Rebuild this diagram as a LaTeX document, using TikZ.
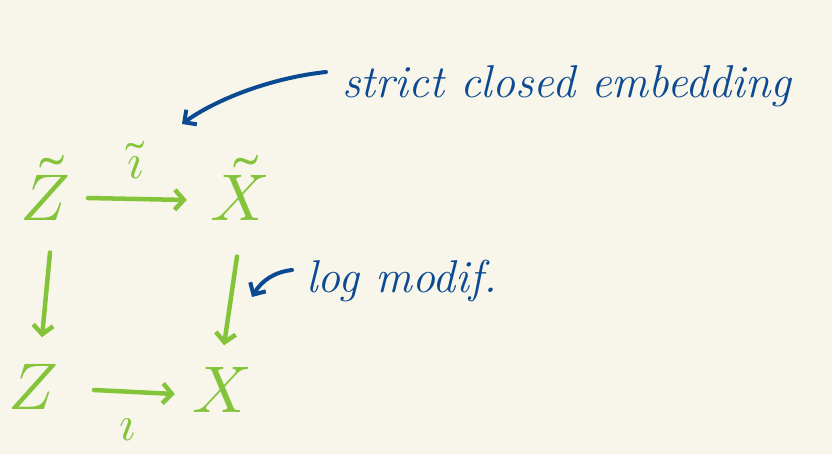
\documentclass[tikz,border=0pt]{standalone}
\usepackage{unicode-math}
\setmathfont{Latin Modern Math}
\usetikzlibrary{arrows.meta}
\definecolor{bgc}{HTML}{F8F5EA}
\definecolor{grn}{HTML}{84C43A}
\definecolor{blu}{HTML}{0B4A92}
\tikzset{
  obj/.style={text=grn, font=\fontsize{66}{66}\selectfont, inner sep=0pt},
  lab/.style={text=grn, font=\fontsize{50}{50}\selectfont, inner sep=0pt},
  garrow/.style={draw=grn, line width=4.5pt, line cap=round, -{Straight Barb[length=9pt,width=20pt,line width=4.5pt]}},
  barrow/.style={draw=blu, line width=4pt, line cap=round, -{Straight Barb[length=9pt,width=18pt,line width=4pt]}},
  note/.style={text=blu, font=\fontsize{46}{46}\selectfont\itshape, inner sep=0pt, anchor=base west}
}
\begin{document}
\begin{tikzpicture}[x=1pt,y=-1pt]
\fill[bgc] (0,0) rectangle (832,454);
\useasboundingbox (0,0) rectangle (832,454);
\node[obj] (Zt) at (45,188) {$\tilde{Z}$};
\node[obj] (Xt) at (240,188) {$\tilde{X}$};
\node[obj] (Z) at (33,387) {$Z$};
\node[obj] (X) at (222,390) {$X$};
\node[lab] (it) at (135,160) {$\tilde{\imath}$};
\node[lab] (i) at (128,430) {$\imath$};
\node[note] (t1) at (342,98) {strict closed embedding};
\node[note] (t2) at (306,292) {log modif.};
\draw[garrow] ([shift={(18,10)}]Zt.east) -- ([shift={(-24,12)}]Xt.west);
\draw[garrow] ([shift={(5,32)}]Zt.south) -- ([shift={(9,-27)}]Z.north);
\draw[garrow] ([shift={(-3,36)}]Xt.south) -- ([shift={(2,-22)}]X.north);
\draw[garrow] ([shift={(36,3)}]Z.east) -- ([shift={(-18,4)}]X.west);
\coordinate (c1) at (182,124);
\coordinate (c2) at (252,297);
\draw[barrow] ([shift={(-16,-26)}]t1.base west) .. controls (270,78) and (215,100) .. (c1);
\draw[barrow] ([shift={(-14,-22)}]t2.base west) .. controls (275,272) and (262,280) .. (c2);
\end{tikzpicture}
\end{document}
